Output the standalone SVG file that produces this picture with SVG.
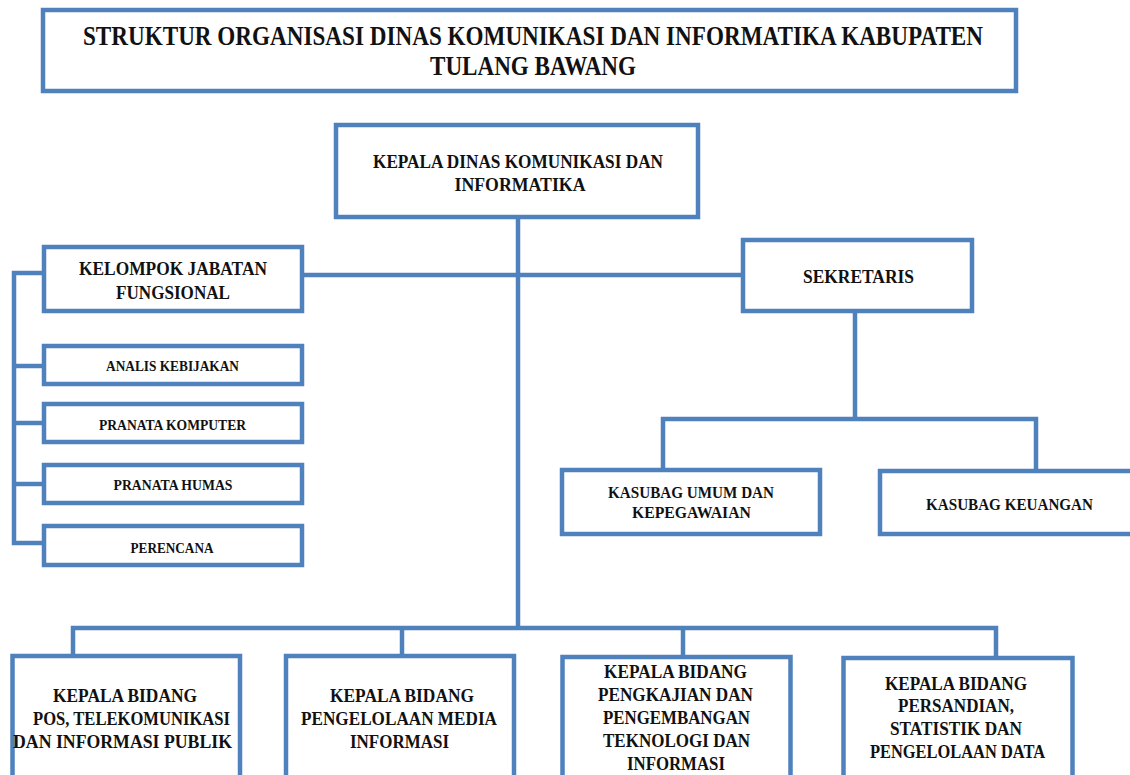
<svg xmlns="http://www.w3.org/2000/svg" width="1130" height="775" viewBox="0 0 1130 775">
<style>
.box{fill:#fff;stroke:#4F81BD;stroke-width:4.5}
.ln{fill:none;stroke:#4F81BD;stroke-width:4.5}
text{font-family:"Liberation Serif","Times New Roman",serif;font-weight:bold;fill:#111;text-anchor:middle}
.t1{font-size:26.5px}
.t3{font-size:19px}
.t4{font-size:14.5px}
.t5{font-size:16.5px}
.t6{font-size:19.5px}
</style>
<rect width="1130" height="775" fill="#fff"/>
<g id="connectors">
<line class="ln" x1="518" y1="217" x2="518" y2="628"/>
<line class="ln" x1="302" y1="275" x2="743" y2="275"/>
<polyline class="ln" points="44,273 14,273 14,543 44,543"/>
<line class="ln" x1="14" y1="366" x2="44" y2="366"/>
<line class="ln" x1="14" y1="423" x2="44" y2="423"/>
<line class="ln" x1="14" y1="484" x2="44" y2="484"/>
<line class="ln" x1="855" y1="311" x2="855" y2="419"/>
<polyline class="ln" points="663,470 663,419 1036,419 1036,471"/>
<polyline class="ln" points="73,656 73,628 996,628 996,658"/>
<line class="ln" x1="402" y1="628" x2="402" y2="656"/>
<line class="ln" x1="683" y1="628" x2="683" y2="657"/>
</g>
<g id="title">
<rect class="box" x="43" y="10" width="973" height="81"/>
<text class="t1" x="533" y="45" textLength="900" lengthAdjust="spacingAndGlyphs">STRUKTUR ORGANISASI DINAS KOMUNIKASI DAN INFORMATIKA KABUPATEN</text>
<text class="t1" x="533" y="75" textLength="206" lengthAdjust="spacingAndGlyphs">TULANG BAWANG</text>
</g>
<g id="kepala-dinas">
<rect class="box" x="336" y="125" width="362" height="92"/>
<text class="t3" x="518" y="168" textLength="290" lengthAdjust="spacingAndGlyphs">KEPALA DINAS KOMUNIKASI DAN</text>
<text class="t3" x="520" y="191" textLength="131" lengthAdjust="spacingAndGlyphs">INFORMATIKA</text>
</g>
<g id="kelompok-jabatan">
<rect class="box" x="44" y="247" width="258" height="64"/>
<text class="t3" x="173" y="275" textLength="188" lengthAdjust="spacingAndGlyphs">KELOMPOK JABATAN</text>
<text class="t3" x="173" y="299" textLength="114" lengthAdjust="spacingAndGlyphs">FUNGSIONAL</text>
</g>
<g id="analis-kebijakan">
<rect class="box" x="44" y="346" width="258" height="38"/>
<text class="t4" x="172.5" y="371" textLength="133" lengthAdjust="spacingAndGlyphs">ANALIS KEBIJAKAN</text>
</g>
<g id="pranata-komputer">
<rect class="box" x="44" y="404" width="258" height="38"/>
<text class="t4" x="172.5" y="430" textLength="147" lengthAdjust="spacingAndGlyphs">PRANATA KOMPUTER</text>
</g>
<g id="pranata-humas">
<rect class="box" x="44" y="465" width="258" height="38"/>
<text class="t4" x="173" y="490" textLength="119" lengthAdjust="spacingAndGlyphs">PRANATA HUMAS</text>
</g>
<g id="perencana">
<rect class="box" x="44" y="526" width="258" height="39"/>
<text class="t4" x="172" y="553" textLength="83" lengthAdjust="spacingAndGlyphs">PERENCANA</text>
</g>
<g id="sekretaris">
<rect class="box" x="743" y="240" width="229" height="71"/>
<text class="t3" x="858.5" y="283" textLength="111" lengthAdjust="spacingAndGlyphs">SEKRETARIS</text>
</g>
<g id="kasubag-umum">
<rect class="box" x="562" y="470" width="258" height="64"/>
<text class="t5" x="691" y="498" textLength="166" lengthAdjust="spacingAndGlyphs">KASUBAG UMUM DAN</text>
<text class="t5" x="691.5" y="518" textLength="119" lengthAdjust="spacingAndGlyphs">KEPEGAWAIAN</text>
</g>
<g id="kasubag-keuangan">
<rect class="box" x="880" y="471" width="262" height="63"/>
<text class="t5" x="1009.5" y="510" textLength="167" lengthAdjust="spacingAndGlyphs">KASUBAG KEUANGAN</text>
</g>
<g id="bidang-pos">
<rect class="box" x="12.5" y="656" width="227.5" height="140"/>
<text class="t6" x="125" y="702" textLength="144" lengthAdjust="spacingAndGlyphs">KEPALA BIDANG</text>
<text class="t6" x="131.5" y="725" textLength="197" lengthAdjust="spacingAndGlyphs">POS, TELEKOMUNIKASI</text>
<text class="t6" x="122.5" y="748" textLength="219" lengthAdjust="spacingAndGlyphs">DAN INFORMASI PUBLIK</text>
</g>
<g id="bidang-media">
<rect class="box" x="286" y="656" width="228" height="140"/>
<text class="t6" x="402" y="702" textLength="144" lengthAdjust="spacingAndGlyphs">KEPALA BIDANG</text>
<text class="t6" x="399" y="725" textLength="196" lengthAdjust="spacingAndGlyphs">PENGELOLAAN MEDIA</text>
<text class="t6" x="399.5" y="748" textLength="99" lengthAdjust="spacingAndGlyphs">INFORMASI</text>
</g>
<g id="bidang-pengkajian">
<rect class="box" x="562.5" y="657" width="228" height="140"/>
<text class="t6" x="675.5" y="678" textLength="143" lengthAdjust="spacingAndGlyphs">KEPALA BIDANG</text>
<text class="t6" x="675.5" y="701" textLength="155" lengthAdjust="spacingAndGlyphs">PENGKAJIAN DAN</text>
<text class="t6" x="676.5" y="724" textLength="147" lengthAdjust="spacingAndGlyphs">PENGEMBANGAN</text>
<text class="t6" x="676.5" y="747" textLength="147" lengthAdjust="spacingAndGlyphs">TEKNOLOGI DAN</text>
<text class="t6" x="676" y="770" textLength="98" lengthAdjust="spacingAndGlyphs">INFORMASI</text>
</g>
<g id="bidang-persandian">
<rect class="box" x="843.5" y="658" width="229" height="140"/>
<text class="t6" x="956" y="690" textLength="142" lengthAdjust="spacingAndGlyphs">KEPALA BIDANG</text>
<text class="t6" x="956" y="712" textLength="116" lengthAdjust="spacingAndGlyphs">PERSANDIAN,</text>
<text class="t6" x="956" y="735" textLength="132" lengthAdjust="spacingAndGlyphs">STATISTIK DAN</text>
<text class="t6" x="957.5" y="758" textLength="175" lengthAdjust="spacingAndGlyphs">PENGELOLAAN DATA</text>
</g>
</svg>
